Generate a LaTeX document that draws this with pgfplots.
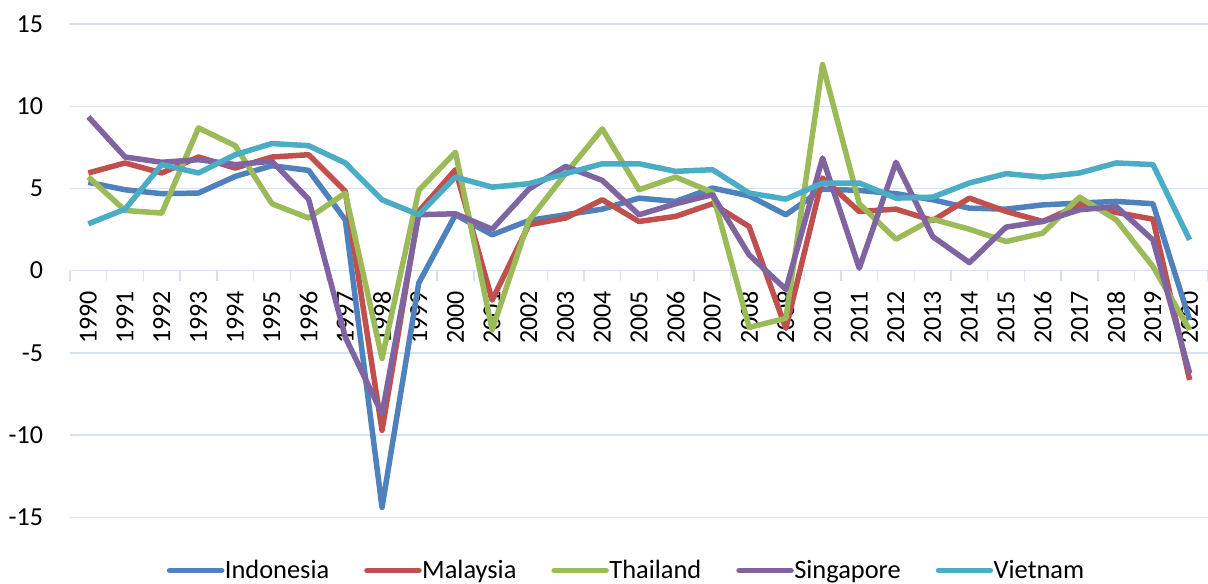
\documentclass[border=0pt]{standalone}
\usepackage{fontspec}
\setmainfont{Carlito}
\usepackage{pgfplots}
\pgfplotsset{compat=1.18}
\usepackage{pgfplotstable}
\definecolor{cInd}{RGB}{79,129,189}
\definecolor{cMal}{RGB}{192,80,77}
\definecolor{cTha}{RGB}{155,187,89}
\definecolor{cSin}{RGB}{128,100,162}
\definecolor{cVie}{RGB}{75,172,198}
\definecolor{gridc}{RGB}{214,226,243}
\pgfplotstableread{
year Ind Mal Tha Sin Vie
1990 5.37 5.94 5.70 9.35 2.85
1991 4.92 6.55 3.66 6.91 3.74
1992 4.68 5.94 3.50 6.59 6.45
1993 4.72 6.91 8.68 6.75 5.94
1994 5.73 6.24 7.60 6.45 7.05
1995 6.38 6.91 4.07 6.65 7.73
1996 6.10 7.05 3.20 4.35 7.60
1997 3.09 4.82 4.72 -4.05 6.55
1998 -14.40 -9.71 -5.34 -8.70 4.31
1999 -0.75 3.60 4.88 3.40 3.40
2000 3.40 6.14 7.20 3.46 5.69
2001 2.18 -1.79 -3.60 2.52 5.08
2002 3.05 2.79 3.05 4.96 5.29
2003 3.40 3.20 5.90 6.34 5.90
2004 3.74 4.31 8.62 5.49 6.50
2005 4.41 2.99 4.92 3.40 6.50
2006 4.21 3.30 5.69 4.07 6.04
2007 5.02 4.07 4.76 4.62 6.14
2008 4.55 2.68 -3.45 0.96 4.72
2009 3.40 -3.51 -2.90 -1.14 4.35
2010 4.96 5.63 12.54 6.85 5.33
2011 4.88 3.60 4.07 0.15 5.33
2012 4.68 3.74 1.91 6.59 4.41
2013 4.31 3.05 3.13 2.07 4.47
2014 3.80 4.41 2.52 0.49 5.33
2015 3.74 3.60 1.77 2.65 5.90
2016 4.00 2.99 2.28 2.99 5.69
2017 4.11 4.00 4.47 3.70 5.94
2018 4.21 3.54 3.09 3.90 6.55
2019 4.07 3.13 0.25 1.87 6.45
2020 -3.00 -6.65 -3.60 -6.24 1.87
}\datatable
\begin{document}
\begin{tikzpicture}
\useasboundingbox (-35pt,-32.85pt) rectangle (569pt,258.65pt);
\begin{axis}[
  at={(0,0)}, anchor=south west,
  scale only axis, width=569pt, height=246.65pt,
  xmin=1989.5, xmax=2020.5, ymin=-15, ymax=15,
  axis x line=middle, axis y line=left,
  x axis line style={-, draw=gridc, line width=0.7pt},
  y axis line style={draw=none},
  xtick={1990,...,2020},
  minor xtick={1989.5,1990.5,...,2020.5},
  ytick={-15,-10,...,15},
  ymajorgrids, xmajorgrids=false,
  grid style={draw=gridc, line width=0.7pt},
  major tick length=0pt, minor tick length=5pt,
  xtick align=outside,
  minor x tick style={draw=gridc, line width=0.7pt},
  /pgf/number format/assume math mode=true,
  /pgf/number format/1000 sep={},
  tick label style={font=\fontsize{13}{15}\selectfont, text=black},
  xticklabel style={rotate=90, anchor=east, inner sep=0pt},
  xticklabel shift=10pt,
  yticklabel style={inner sep=0pt},
  yticklabel shift=13.3pt,
  legend columns=-1,
  legend style={at={(0.0848,-0.1078)}, anchor=west, draw=none, fill=none, inner sep=0pt,
    font=\fontsize{13.2}{15}\selectfont,
    nodes={inner sep=0pt},
    /tikz/every odd column/.append style={column sep=0.25pt},
    /tikz/every even column/.append style={column sep=17.5pt}},
  legend image code/.code={\draw[#1, line cap=round, line width=2.75pt] (0pt,0pt) -- (26pt,0pt);},
  every axis plot/.append style={line width=2.75pt, line join=round, no markers},
]
\addplot[cInd] table[x=year, y=Ind] {\datatable};
\addplot[cMal] table[x=year, y=Mal] {\datatable};
\addplot[cTha] table[x=year, y=Tha] {\datatable};
\addplot[cSin] table[x=year, y=Sin] {\datatable};
\addplot[cVie] table[x=year, y=Vie] {\datatable};
\legend{Indonesia, Malaysia, Thailand, Singapore, Vietnam}
\end{axis}
\end{tikzpicture}
\end{document}
